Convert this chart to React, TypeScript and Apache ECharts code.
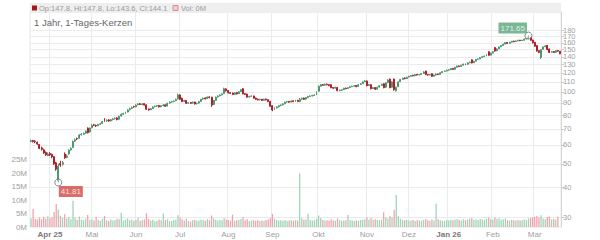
import React, { useEffect, useRef } from "react";
import * as echarts from "echarts";

// Trading calendar (Xetra): weekdays between these dates minus exchange holidays
const startDate = "2025-03-19";
const endDate = "2026-03-18";
const holidays = ["2025-04-18", "2025-04-21", "2025-05-01", "2025-12-24", "2025-12-25", "2025-12-26", "2025-12-31", "2026-01-01"];
const monthNames = ["Jan", "Feb", "Mar", "Apr", "Mai", "Jun", "Jul", "Aug", "Sep", "Okt", "Nov", "Dez"];

const priceTicks = [30, 40, 50, 60, 70, 80, 90, 100, 110, 120, 130, 140, 150, 160, 170, 180];
const volumeTicks = [0, 5, 10, 15, 20, 25]; // millions

const opens = [
  62, 62.6, 62.2, 61.5, 60.2, 58.3, 57.2, 55.8, 54.2, 55.2,
  54.8, 53.6, 50.5, 42.5, 50.2, 49.8, 55, 53.2, 55, 57.2,
  58.5, 62.2, 63.8, 64, 66.2, 66.5, 67.2, 70.5, 68, 70.8,
  72.8, 72.3, 72.2, 73.2, 73.8, 77, 75.6, 76.3, 75.6, 76.6,
  77.2, 77.8, 76.8, 79.2, 80.6, 81.2, 82.3, 84.2, 85.3, 86.8,
  86.6, 88.3, 89.2, 88.4, 89.3, 88.2, 84.8, 84.2, 85.2, 86.7,
  87.2, 87.6, 86.6, 87.7, 88.2, 87.2, 89.7, 90.6, 91.2, 91.8,
  93.4, 97, 94, 91.3, 92, 89.6, 90.2, 89.7, 90.6, 89.1,
  89.7, 91.2, 93.2, 94.3, 93.7, 95.2, 95, 88.5, 92.2, 95.2,
  96.2, 97.2, 98.3, 102.8, 101.2, 99.2, 98.8, 97.6, 99.2, 98.2,
  100.2, 103, 98.2, 97.8, 95.1, 95.7, 96.1, 94.2, 93.1, 92.6,
  93.1, 92.2, 93.2, 92.7, 91.3, 87.5, 84.3, 85.7, 86.6, 87.7,
  88.2, 89.1, 90.7, 91.2, 90.6, 91.7, 91.1, 92.2, 91.2, 93.2,
  94.2, 93.2, 94.6, 95.6, 96.1, 96.6, 97.2, 100.5, 105.6, 107.2,
  106.6, 107.7, 107.1, 107, 104.2, 103.6, 104.3, 101.1, 101.6, 102.2,
  103.6, 103.2, 104.2, 105.1, 105.6, 106.2, 105.2, 107.2, 108.2, 110.2,
  111, 106.2, 107, 103.2, 104.2, 102.6, 104.7, 106.2, 108, 104.4,
  109.2, 113, 104.5, 113, 101, 105, 110.3, 112.7, 114.2, 113.6,
  115.2, 116.2, 117.2, 116.6, 118.2, 117.6, 118.2, 119.2, 122, 118.2,
  117.6, 119, 116.2, 117.6, 118.7, 118.2, 120.2, 121.7, 122.2, 123.2,
  123.7, 125.2, 124.2, 126.7, 128.2, 127.6, 129.2, 130.7, 130.2, 132.2,
  136, 132.2, 134.2, 136.7, 137.2, 139.2, 140.2, 141.2, 147, 142.3,
  145.2, 153, 148.3, 151.2, 154.2, 156.2, 158.2, 160.7, 159.2, 161.2,
  162.8, 162.2, 163.2, 164.3, 163.6, 164.2, 166.2, 167.5, 168.5, 164.5,
  161, 156, 148.5, 139, 150.5, 154.3, 156, 151, 146.3, 147.2,
  146.2, 148.6, 147.8,
];

const closes = [
  62.5, 62, 61.8, 60.5, 58, 57.5, 55.5, 54.5, 55, 54.5,
  53.5, 50, 47.5, 49, 49.5, 50.5, 53, 54, 57, 58,
  62, 63, 63.5, 66, 66.5, 67, 68.5, 67.5, 70.5, 72.5,
  72.5, 72, 73, 73.5, 75, 75.5, 76, 75.5, 76.5, 77,
  77.5, 76.5, 79, 80.5, 81, 82, 84, 85, 86, 86.5,
  88, 89, 88.5, 89, 88, 84.5, 84, 85, 86.5, 87,
  87.5, 86.5, 87.5, 88, 87, 89.5, 90.5, 91, 91.5, 93,
  97, 93, 91, 92, 89.5, 90, 89.5, 90.5, 89, 89.5,
  91, 93, 94, 93.5, 95, 94.5, 88, 92, 95, 96,
  97, 98, 103, 101, 99, 98.5, 97.5, 99, 98, 100,
  102, 98, 97.5, 95, 95.5, 96, 94, 93, 92.5, 93,
  92, 93, 92.5, 91, 87, 84, 85.5, 86.5, 87.5, 88,
  89, 90.5, 91, 90.5, 91.5, 91, 92, 91, 93, 94,
  93, 94.5, 95.5, 96, 96.5, 97, 100, 105.5, 107, 106.5,
  107.5, 107, 106, 104, 103.5, 104.5, 101, 101.5, 102, 103.5,
  103, 104, 105, 105.5, 106, 105, 107, 108, 110, 111,
  106, 107, 103, 104, 102.5, 104.5, 106, 107.5, 104, 109,
  112, 104, 110, 102, 104.5, 110, 112.5, 114, 113.5, 115,
  116, 117, 116.5, 118, 117.5, 118, 119, 121, 118, 117.5,
  118, 116, 117.5, 118.5, 118, 120, 121.5, 122, 123, 123.5,
  125, 124, 126.5, 128, 127.5, 129, 130.5, 130, 132, 133,
  132, 134, 136.5, 137, 139, 140, 141, 143, 142, 145,
  147, 148, 151, 154, 156, 158, 160.5, 159, 161, 162.5,
  162, 163, 164, 163.5, 164, 166, 167, 168, 164, 160,
  155, 148, 146, 150, 154, 155.5, 150, 146, 147, 146,
  148.5, 147.8, 144.1,
];

const lows = [
  61.5, 61.4, 61, 60, 57.6, 56.8, 55, 54, 53.8, 53.9,
  52.8, 49.5, 46.8, 41.81, 48.6, 49.2, 52.5, 52.8, 54.6, 56.8,
  58.2, 61.8, 62.9, 63.7, 65.6, 66, 66.8, 67, 67.6, 70.4,
  71.8, 71.3, 71.8, 72.7, 73.4, 75, 75, 74.9, 75.2, 76,
  76.6, 76, 76.5, 78.8, 80, 80.7, 82, 83.6, 84.8, 85.8,
  86.2, 87.7, 88, 87.9, 87.6, 84, 83.4, 83.8, 84.9, 86.2,
  86.6, 86, 86.2, 87.1, 86.5, 86.9, 89.2, 90.1, 90.6, 91.4,
  93, 92.5, 90.6, 90.8, 89, 89, 88.9, 89.2, 88.5, 88.6,
  89.3, 90.9, 92.6, 92.9, 93.3, 94, 86.5, 88, 91.8, 94.7,
  95.7, 96.6, 98, 100.3, 98.4, 97.9, 97, 97.2, 97.5, 97.9,
  99.8, 97.6, 96.9, 94.6, 94.6, 95.2, 93.6, 92.5, 92, 92.1,
  91.5, 91.8, 92, 90.5, 86.6, 83, 83.9, 85.2, 86.1, 87.1,
  87.7, 88.8, 90.1, 90, 90.2, 90.5, 90.7, 90.5, 90.4, 92.6,
  92.5, 92.8, 94.1, 95.1, 95.6, 96.1, 96.8, 100.2, 105, 105.9,
  106.1, 106.4, 105.5, 103.5, 102.9, 103.1, 100.5, 100.6, 101.1, 101.8,
  102.5, 102.8, 103.7, 104.6, 105.1, 104.5, 104.8, 106.7, 107.8, 109.7,
  105.4, 105.7, 102.4, 102.6, 101.8, 102.2, 104.2, 105.8, 103.4, 104,
  108.8, 103.5, 104, 101.2, 100.2, 104.6, 109.8, 112.2, 112.8, 113.2,
  114.7, 115.7, 115.9, 116.2, 116.9, 117.1, 117.8, 118.8, 117.5, 116.9,
  117.1, 115.5, 115.8, 116.8, 117.4, 117.8, 119.8, 121.1, 121.7, 122.6,
  123.3, 123.4, 123.8, 126.2, 126.8, 127.2, 128.8, 129.3, 129.8, 131.6,
  131.4, 131.8, 133.8, 136, 136.8, 138.6, 139.6, 140.8, 141.4, 141.8,
  144.7, 147.3, 147.8, 150.7, 153.6, 155.6, 157.7, 158.3, 158.7, 160.7,
  161.2, 161.6, 162.6, 162.7, 163, 163.7, 165.5, 166.2, 163.2, 159.2,
  154.2, 147.2, 145, 137, 150, 153.6, 149.2, 145.2, 145.5, 145.3,
  145.8, 147, 143.6,
];

const highs = [
  63.2, 63, 62.8, 62, 60.5, 59, 57.8, 56.4, 55.8, 56,
  55.2, 54, 51, 50, 51.5, 51.4, 55.8, 54.8, 57.5, 58.6,
  62.6, 63.8, 64.3, 66.5, 67.2, 67.6, 69, 71, 71, 73.2,
  73.5, 73, 73.6, 74.1, 75.6, 77.6, 76.8, 76.8, 77, 77.6,
  78.2, 78.2, 79.5, 81.2, 81.8, 82.6, 84.6, 85.8, 86.8, 87.4,
  88.6, 89.6, 89.8, 89.5, 89.6, 88.5, 85.2, 85.6, 87, 87.6,
  88.1, 88, 88, 88.8, 88.5, 90, 91.1, 91.6, 92, 93.6,
  98.2, 97.6, 94.5, 92.6, 92.4, 90.7, 90.6, 91, 91, 90.1,
  91.6, 93.5, 94.6, 94.8, 95.6, 95.8, 95.3, 92.5, 95.5, 96.6,
  97.6, 98.6, 104, 103.5, 101.6, 99.8, 99.2, 99.6, 99.6, 100.6,
  102.6, 103.6, 98.8, 98.2, 96.2, 96.6, 96.4, 94.5, 93.6, 93.6,
  93.4, 93.6, 93.7, 93, 91.6, 87.9, 86, 87.1, 88, 88.6,
  89.6, 91, 91.6, 91.6, 92, 92.1, 92.6, 92.5, 94.2, 94.6,
  94.6, 95, 96.1, 96.6, 97.1, 97.6, 100.6, 106.3, 107.7, 107.8,
  108.2, 108.1, 107.5, 107.4, 104.6, 105, 104.6, 102.2, 102.6, 104,
  104.1, 104.6, 105.6, 106.1, 106.6, 106.5, 107.6, 108.6, 110.6, 112,
  111.4, 107.8, 107.4, 104.7, 104.6, 105, 106.6, 108.1, 108.6, 109.6,
  112.8, 113.6, 110.6, 113.5, 105.2, 110.6, 113.2, 114.6, 114.8, 115.7,
  116.6, 117.6, 117.7, 118.6, 118.7, 118.6, 119.6, 121.8, 122.6, 118.7,
  118.6, 119.4, 118, 119.5, 119.1, 120.6, 122.1, 122.7, 123.7, 124.2,
  125.7, 125.6, 127.1, 128.7, 128.8, 129.7, 131.1, 131.2, 132.7, 133.8,
  136.7, 134.7, 137.2, 137.8, 139.7, 140.8, 141.8, 143.8, 147.6, 145.8,
  147.8, 153.7, 151.8, 154.8, 156.8, 158.8, 161.3, 161.2, 161.8, 163.3,
  163.4, 163.8, 164.9, 164.8, 164.9, 166.8, 167.9, 171.65, 169.3, 165.2,
  161.6, 156.8, 149.2, 150.8, 154.8, 156.4, 156.6, 151.6, 147.8, 147.8,
  149.3, 149.4, 147.8,
];

// volume in millions
const volumes = [
  3.2, 6.7, 3.0, 2.8, 3.5, 2.9, 3.8, 3.1, 4.0, 3.3,
  3.6, 5.6, 8.6, 6.5, 4.2, 3.4, 4.8, 3.2, 3.7, 2.9,
  9.8, 3.5, 2.6, 3.9, 2.8, 2.5, 3.1, 4.5, 2.7, 2.9,
  2.4, 3.8, 2.6, 2.3, 3.0, 4.1, 2.5, 2.2, 2.8, 2.4,
  2.6, 3.1, 2.9, 5.3, 2.4, 2.7, 3.2, 2.5, 2.8, 2.3,
  2.6, 3.4, 2.2, 2.5, 2.9, 5.2, 3.0, 2.4, 2.7, 2.1,
  2.3, 2.8, 2.5, 5.0, 2.6, 2.9, 2.3, 2.2, 2.6, 2.8,
  4.4, 3.5, 2.9, 2.4, 3.1, 2.2, 2.0, 2.5, 2.7, 2.3,
  2.4, 2.8, 2.6, 2.3, 2.9, 2.5, 4.3, 3.2, 2.7, 2.4,
  2.6, 2.5, 3.4, 2.8, 2.6, 2.4, 4.6, 2.3, 2.5, 2.7,
  3.0, 3.6, 2.5, 2.9, 2.2, 2.4, 2.6, 2.3, 2.5, 2.2,
  2.4, 2.3, 2.6, 2.8, 3.4, 4.9, 3.1, 2.6, 2.4, 2.5,
  2.3, 2.6, 2.2, 2.4, 2.5, 2.3, 2.6, 2.4, 20.0, 3.3,
  2.7, 2.9, 4.9, 2.6, 2.4, 2.5, 3.0, 4.3, 3.4, 2.6,
  2.4, 2.5, 2.3, 2.9, 2.5, 2.4, 3.2, 2.6, 2.3, 2.4,
  2.5, 4.5, 2.6, 2.4, 2.2, 2.5, 2.3, 2.6, 2.7, 2.9,
  3.6, 2.8, 3.4, 2.7, 2.9, 2.6, 2.5, 2.8, 5.5, 3.6,
  3.2, 4.1, 3.5, 6.4, 11.9, 4.0, 3.1, 2.7, 2.5, 2.6,
  2.4, 2.3, 2.6, 2.2, 2.5, 2.4, 2.3, 2.7, 3.0, 2.5,
  2.3, 2.8, 2.4, 8.7, 2.9, 2.5, 2.3, 2.2, 2.6, 2.4,
  2.7, 2.5, 2.8, 3.0, 2.6, 2.4, 2.9, 2.5, 2.8, 3.1,
  3.4, 2.7, 2.9, 2.6, 3.0, 2.8, 2.6, 3.1, 3.5, 2.9,
  2.8, 3.6, 3.0, 3.3, 2.7, 2.9, 3.2, 2.6, 2.4, 2.7,
  2.5, 2.3, 2.6, 2.4, 2.5, 2.8, 2.6, 3.2, 3.4, 3.6,
  3.8, 4.1, 3.5, 4.4, 3.2, 2.9, 3.7, 3.9, 2.8, 3.0,
  2.7, 3.9, 0,
];

const UP = "#4a9a70";
const DOWN = "#b51e28";
const VOL_UP = "#a0d4b6";
const VOL_DOWN = "#f2a2ad";
const FONT = "'Liberation Sans', Arial, sans-serif";

function buildDates(): string[] {
  const out: string[] = [];
  const d = new Date(startDate + "T00:00:00Z");
  const end = new Date(endDate + "T00:00:00Z");
  while (d.getTime() <= end.getTime()) {
    const wd = d.getUTCDay();
    const s = d.toISOString().slice(0, 10);
    if (wd !== 0 && wd !== 6 && holidays.indexOf(s) < 0) out.push(s);
    d.setUTCDate(d.getUTCDate() + 1);
  }
  return out;
}

export default function App() {
  const ref = useRef<HTMLDivElement>(null);

  useEffect(() => {
    if (!ref.current) return;
    const chart = echarts.init(ref.current, undefined, { renderer: "svg" });
    const dates = buildDates();
    const n = Math.min(dates.length, closes.length);
    const cats = dates.slice(0, n);
    const monthStart = cats.map((s, i) => i > 0 && s.slice(0, 7) !== cats[i - 1].slice(0, 7));
    const firstLabel = monthStart.indexOf(true);
    const L = Math.log;
    const yMin = L(27.25);
    const yMax = L(215.4);

    // Split the price labels over two overlaid axes so ECharts' min/max overlap
    // logic never hides one of the tightly packed top labels.
    const labelsA = priceTicks.filter((_, k) => k !== priceTicks.length - 2).map((v) => L(v));
    const labelsB = [L(priceTicks[priceTicks.length - 2])];

    const candleData = cats.map((_, i) => [L(opens[i]), L(closes[i]), L(lows[i]), L(highs[i])]);
    const volData = cats.map((_, i) => ({
      value: volumes[i],
      itemStyle: { color: closes[i] >= opens[i] ? VOL_UP : VOL_DOWN },
    }));

    let maxI = 0, minI = 0;
    for (let i = 0; i < n; i++) {
      if (highs[i] > highs[maxI]) maxI = i;
      if (lows[i] < lows[minI]) minI = i;
    }

    const last = n - 1;
    const legendText = `Op:${opens[last].toFixed(1)}, Hi:${highs[last].toFixed(1)}, Lo:${lows[last].toFixed(1)}, Cl:${closes[last].toFixed(1)}`;

    const fmtMonth = (value: string, index: number) => {
      const m = parseInt(value.slice(5, 7), 10) - 1;
      const name = monthNames[m];
      if (index === firstLabel || m === 0) return `{b|${name} ${value.slice(2, 4)}}`;
      return name;
    };
    const priceFmt = (v: number) => String(Math.round(Math.exp(v)));
    const priceLabel = { formatter: priceFmt, color: "#a0a0a0", fontSize: 7.5, margin: 2, fontFamily: FONT };

    chart.setOption({
      animation: false,
      textStyle: { fontFamily: FONT },
      grid: {
        left: 30, right: 39, top: 12, bottom: 13,
        show: true, borderColor: "#e6e6e6", borderWidth: 1, backgroundColor: "transparent",
      },
      xAxis: {
        type: "category",
        data: cats,
        boundaryGap: true,
        axisLine: { show: false },
        axisTick: { show: false },
        axisLabel: {
          interval: (i: number) => monthStart[i],
          formatter: fmtMonth,
          color: "#a0a0a0",
          fontSize: 8,
          margin: 3,
          fontFamily: FONT,
          rich: { b: { fontWeight: "bold", color: "#777", fontSize: 8, fontFamily: FONT } },
        },
        splitLine: { show: true, interval: (i: number) => monthStart[i], lineStyle: { color: "#ebebeb", width: 1 } },
      },
      yAxis: [
        {
          type: "value",
          position: "right",
          min: yMin,
          max: yMax,
          axisLine: { show: true, lineStyle: { color: "#d6d6d6" } },
          axisTick: { show: true, length: 3, customValues: priceTicks.map((v) => L(v)), lineStyle: { color: "#cccccc" } },
          axisLabel: { ...priceLabel, customValues: labelsA },
          splitLine: { show: true, lineStyle: { color: "#ebebeb", width: 1 } },
        },
        {
          type: "value",
          position: "left",
          min: 0,
          max: 80.2,
          axisLine: { show: false },
          axisTick: { show: false },
          splitLine: { show: false },
          axisLabel: {
            customValues: volumeTicks,
            formatter: (v: number) => `${Math.round(v)}M`,
            color: "#a0a0a0", fontSize: 8, margin: 3, fontFamily: FONT,
          },
        },
        {
          type: "value",
          position: "right",
          min: yMin,
          max: yMax,
          axisLine: { show: false },
          axisTick: { show: false, customValues: labelsB },
          splitLine: { show: false },
          axisLabel: { ...priceLabel, customValues: labelsB },
        },
      ],
      series: [
        {
          type: "bar",
          yAxisIndex: 1,
          data: volData,
          barWidth: "62%",
          z: 1,
        },
        {
          type: "candlestick",
          yAxisIndex: 0,
          data: candleData,
          barWidth: "70%",
          z: 3,
          itemStyle: { color: UP, color0: DOWN, borderColor: UP, borderColor0: DOWN, borderWidth: 1 },
        },
        {
          type: "scatter",
          yAxisIndex: 0,
          z: 5,
          symbol: "circle",
          symbolSize: 7,
          itemStyle: { color: "rgba(255,255,255,0.4)", borderColor: "#666", borderWidth: 1 },
          data: [
            {
              value: [maxI, L(highs[maxI])],
              label: {
                show: true,
                formatter: highs[maxI].toFixed(2),
                position: [2.5, 2],
                align: "right",
                verticalAlign: "bottom",
                backgroundColor: "#5aa57c",
                color: "#fff",
                fontSize: 8,
                padding: [2, 2, 1, 2],
                fontFamily: FONT,
              },
            },
            {
              value: [minI, L(lows[minI])],
              label: {
                show: true,
                formatter: lows[minI].toFixed(2),
                position: [4.5, 7.5],
                align: "left",
                verticalAlign: "top",
                backgroundColor: "#d24a46",
                color: "#fff",
                fontSize: 8,
                padding: [2, 2, 1, 2],
                fontFamily: FONT,
              },
            },
          ],
        },
      ],
      graphic: [
        { type: "rect", silent: true, shape: { x: 30, y: 3, width: 531, height: 10 }, style: { fill: "#eeeeee" }, z: 10 },
        { type: "rect", silent: true, shape: { x: 32, y: 5.5, width: 5, height: 5 }, style: { fill: "#a3191c" }, z: 11 },
        {
          type: "text", silent: true, x: 39, y: 8, z: 11,
          style: { text: legendText, fontSize: 7.5, fill: "#9a9a9a", verticalAlign: "middle", fontFamily: FONT },
        },
        { type: "rect", silent: true, shape: { x: 173, y: 5.5, width: 5, height: 5 }, style: { fill: "#f6c9cf", stroke: "#d88f99", lineWidth: 1 }, z: 11 },
        {
          type: "text", silent: true, x: 181, y: 8, z: 11,
          style: { text: `Vol: ${volumes[last]}M`, fontSize: 7.5, fill: "#9a9a9a", verticalAlign: "middle", fontFamily: FONT },
        },
        {
          type: "text", silent: true, x: 34, y: 22, z: 11,
          style: { text: "1 Jahr, 1-Tages-Kerzen", fontSize: 9.5, fill: "#666", verticalAlign: "middle", fontFamily: FONT },
        },
      ],
    });

    return () => chart.dispose();
  }, []);

  return <div ref={ref} style={{ position: "absolute", left: 0, top: 0, width: 600, height: 240 }} />;
}
